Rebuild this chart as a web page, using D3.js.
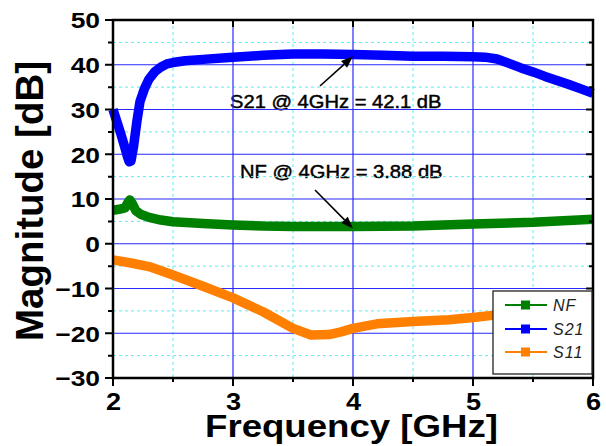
<!DOCTYPE html>
<html><head><meta charset="utf-8">
<script src="https://cdn.jsdelivr.net/npm/d3@7"></script>
<style>body{margin:0;background:#fff}svg{display:block}</style>
</head><body>
<svg id="c" width="606" height="446"></svg>
<script>
// ---- data ----
const xTicks = [2, 3, 4, 5, 6];
const xMinor = [2.5, 3.5, 4.5, 5.5];
const yTicks = [-30, -20, -10, 0, 10, 20, 30, 40, 50];
const yMinor = [-25, -15, -5, 5, 15, 25, 35, 45];

const freqNF = [2.0, 2.05, 2.1, 2.12, 2.14, 2.16, 2.19, 2.23, 2.3, 2.4, 2.5, 2.75, 3.0, 3.25, 3.5, 4.0, 4.5, 5.0, 5.5, 6.0];
const valNF  = [7.5, 7.7, 8.0, 9.0, 9.8, 9.0, 7.4, 6.6, 5.9, 5.3, 4.9, 4.5, 4.2, 3.95, 3.85, 3.85, 3.95, 4.4, 4.8, 5.5];

const freqS21 = [2.0, 2.03, 2.06, 2.09, 2.12, 2.135, 2.15, 2.17, 2.2, 2.225, 2.26, 2.3, 2.35, 2.4, 2.45, 2.5, 2.6, 2.75, 3.0, 3.25, 3.5, 3.75, 4.0, 4.25, 4.5, 4.75, 5.0, 5.1, 5.2, 5.3, 5.4, 5.5, 5.6, 5.7, 5.8, 5.9, 6.0];
const valS21  = [30.0, 27.5, 25.0, 22.3, 19.5, 18.3, 18.5, 21.5, 27.5, 31.8, 34.5, 36.8, 38.5, 39.5, 40.2, 40.5, 40.9, 41.2, 41.7, 42.1, 42.4, 42.4, 42.3, 42.1, 41.9, 41.9, 41.8, 41.7, 41.3, 40.3, 39.3, 38.4, 37.4, 36.5, 35.6, 34.6, 33.6];

const freqS11 = [2.0, 2.15, 2.3, 2.5, 2.75, 3.0, 3.25, 3.5, 3.65, 3.8, 3.9, 4.0, 4.2, 4.5, 4.8, 5.0, 5.2, 5.4, 5.6, 5.8, 6.0];
const valS11  = [-3.6, -4.3, -5.1, -7.0, -9.5, -12.1, -15.2, -18.9, -20.4, -20.3, -19.7, -18.9, -17.9, -17.4, -17.0, -16.5, -15.9, -15.3, -14.6, -13.8, -13.0];

const seriesNames = ["NF", "S21", "S11"];
const seriesColors = ["#008000", "#0000ff", "#ff8000"];
const annS21 = "S21 @ 4GHz = 42.1 dB";
const annNF = "NF @ 4GHz = 3.88 dB";
const xTitle = "Frequency [GHz]";
const yTitle = "Magnitude [dB]";

// ---- drawing ----
const svg = d3.select("#c");
const L = 113, R = 593, T = 20, B = 378;
const x = d3.scaleLinear().domain([2, 6]).range([L, R]);
const y = d3.scaleLinear().domain([-30, 50]).range([B, T]);
const FONT = "Liberation Sans, Arial, sans-serif";

// ---- texts first ----
svg.append("text").attr("transform", `translate(${(205 + 498) / 2},437) scale(1.145,1)`).attr("text-anchor", "middle")
  .attr("font-family", FONT).attr("font-size", 32).attr("font-weight", "bold").attr("fill", "#000").text(xTitle);
svg.append("text").attr("transform", "translate(43,201) rotate(-90)").attr("text-anchor", "middle")
  .attr("font-family", FONT).attr("font-size", 38.5).attr("font-weight", "bold").attr("fill", "#000").text(yTitle);

// tick labels via d3 axes (tick marks drawn separately below)
const fmt = d3.format("d");
svg.append("g").attr("transform", `translate(0,${B})`)
  .call(d3.axisBottom(x).tickValues(xTicks).tickSize(0).tickFormat(fmt))
  .call(s => { s.select(".domain").remove(); s.selectAll(".tick line").remove(); })
  .call(s => s.selectAll("text").attr("font-family", FONT).attr("fill", "#000")
    .attr("font-size", 23).attr("font-weight", "bold").attr("dy", null).attr("y", 0)
    .attr("transform", "translate(0,32) scale(1.18,1)"));
svg.append("g").attr("transform", `translate(${L},0)`)
  .call(d3.axisLeft(y).tickValues(yTicks).tickSize(0).tickFormat(fmt))
  .call(s => { s.select(".domain").remove(); s.selectAll(".tick line").remove(); })
  .call(s => s.selectAll("text").attr("font-family", FONT).attr("fill", "#000")
    .attr("font-size", 22).attr("font-weight", "bold").attr("dy", "0.36em").attr("x", 0)
    .attr("transform", "translate(-13,0) scale(1.2,1)"));

svg.append("text").attr("transform", "translate(230,108) scale(1.12,1)")
  .attr("font-family", FONT).attr("font-size", 18)
  .attr("fill", "#000").attr("stroke", "#000").attr("stroke-width", 0.45).text(annS21);
svg.append("text").attr("transform", "translate(240,178) scale(1.12,1)")
  .attr("font-family", FONT).attr("font-size", 18)
  .attr("fill", "#000").attr("stroke", "#000").attr("stroke-width", 0.45).text(annNF);

// ---- grid as single paths ----
const vLines = v => v.map(d => `M${x(d)},${T}V${B}`).join("");
const hLines = v => v.map(d => `M${L},${y(d)}H${R}`).join("");
svg.append("path").attr("d", vLines(xMinor) + hLines(yMinor))
  .attr("fill", "none").attr("stroke", "#55f0f5").attr("stroke-width", 1).attr("stroke-dasharray", "3,3");
svg.append("path").attr("d", vLines(xTicks.slice(1, -1)) + hLines(yTicks.slice(1, -1)))
  .attr("fill", "none").attr("stroke", "#2a2aff").attr("stroke-width", 1.2);

// ---- series ----
const line = d3.line().x(d => x(d[0])).y(d => y(d[1]));
const data = [d3.zip(freqNF, valNF), d3.zip(freqS21, valS21), d3.zip(freqS11, valS11)];
data.forEach((d, i) => {
  svg.append("path").datum(d).attr("d", line)
    .attr("fill", "none").attr("stroke", seriesColors[i])
    .attr("stroke-width", 9.5).attr("stroke-linejoin", "round").attr("stroke-linecap", "butt");
});

// ---- tick marks as single path ----
let tk = "";
xTicks.forEach(d => { tk += `M${x(d)},${B}v8M${x(d)},${T}v7`; });
xMinor.forEach(d => { tk += `M${x(d)},${B}v4M${x(d)},${T}v4`; });
yTicks.forEach(d => { tk += `M${L},${y(d)}h-8M${R},${y(d)}h-7`; });
yMinor.forEach(d => { tk += `M${L},${y(d)}h-5M${R},${y(d)}h-4`; });
svg.append("path").attr("d", tk).attr("fill", "none").attr("stroke", "#000").attr("stroke-width", 2);

// frame
svg.append("path").attr("d", `M${L},${T}H${R}V${B}H${L}Z`)
  .attr("fill", "none").attr("stroke", "#000").attr("stroke-width", 2.5);

// ---- annotation arrows ----
function arrow(x1, y1, x2, y2) {
  const a = Math.atan2(y2 - y1, x2 - x1), len = 12, half = 4.5;
  const bx = x2 - len * Math.cos(a), by = y2 - len * Math.sin(a);
  const px = -Math.sin(a) * half, py = Math.cos(a) * half;
  svg.append("path").attr("d", `M${x1},${y1}L${bx},${by}`).attr("stroke", "#000").attr("stroke-width", 1.6);
  svg.append("path").attr("d", `M${x2},${y2}L${bx + px},${by + py}L${bx - px},${by - py}Z`).attr("fill", "#000");
}
arrow(320, 86, x(4), y(42.1) + 1);
arrow(315, 190, x(4), y(3.88) + 2);

// ---- legend ----
const lg = svg.append("g");
lg.append("rect").attr("x", 493).attr("y", 291).attr("width", 99).attr("height", 83)
  .attr("fill", "#fff").attr("stroke", "#222").attr("stroke-width", 1.3);
const rowY = [305, 329, 352];
seriesNames.forEach((n, i) => {
  lg.append("line").attr("x1", 505).attr("x2", 547).attr("y1", rowY[i]).attr("y2", rowY[i])
    .attr("stroke", seriesColors[i]).attr("stroke-width", 2);
  lg.append("rect").attr("x", 521).attr("y", rowY[i] - 4.5).attr("width", 9).attr("height", 9)
    .attr("fill", seriesColors[i]);
  lg.append("text").attr("x", 553).attr("y", rowY[i] + 6)
    .attr("font-family", FONT).attr("font-size", 16).attr("font-style", "italic")
    .attr("fill", "#222").attr("letter-spacing", 1).text(n);
});
</script>
</body></html>
